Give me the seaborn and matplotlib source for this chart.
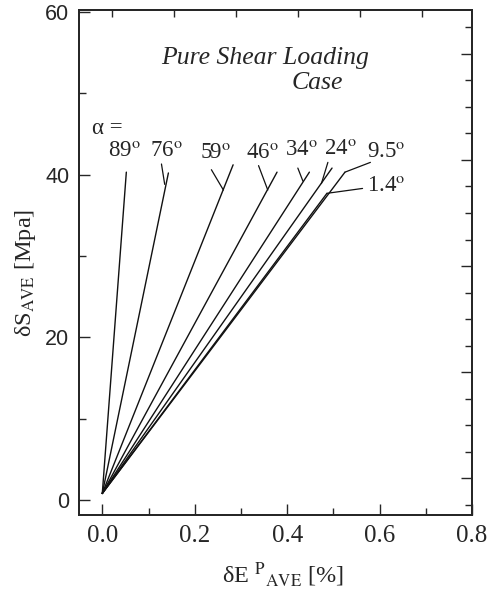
import matplotlib
matplotlib.use('Agg')
import matplotlib.pyplot as plt
import seaborn as sns
import pandas as pd
from matplotlib.ticker import MultipleLocator, NullFormatter

# Angle labels and end points of each loading line
angles = ['89', '76', '59', '46', '34', '24', '9.5', '1.4']
end_x = [0.052, 0.143, 0.283, 0.378, 0.448, 0.497, 0.525, 0.486]
end_y = [40.3, 40.2, 41.2, 40.3, 40.3, 40.8, 40.3, 37.7]
start_x = 0.0
start_y = 0.85

# Label positions (data coords)
label_x = [0.048, 0.138, 0.245, 0.346, 0.43, 0.515, 0.614, 0.614]
label_y = [42.8, 42.8, 42.6, 42.6, 42.9, 43.1, 42.7, 38.5]

# Leader lines: label side -> point on line
lead_from = [None, (0.128, 41.3), (0.236, 40.6), (0.338, 41.1), (0.423, 40.8), (0.488, 41.5), (0.58, 41.5), (0.563, 38.3)]
lead_to = [None, (0.135, 38.8), (0.262, 38.1), (0.358, 38.1), (0.434, 39.2), (0.474, 38.9), (0.525, 40.3), (0.486, 37.7)]

rows = []
for a, xe, ye in zip(angles, end_x, end_y):
    rows.append({'angle': a, 'x': start_x, 'y': start_y})
    rows.append({'angle': a, 'x': xe, 'y': ye})
df = pd.DataFrame(rows)

sns.set_style('ticks')
plt.rcParams['font.family'] = ['Liberation Serif', 'DejaVu Serif']
plt.rcParams['mathtext.fontset'] = 'stix'

fig = plt.figure(figsize=(4.98, 5.92), dpi=100)
ax = fig.add_axes([0.159, 0.130, 0.789, 0.853])

sns.lineplot(data=df, x='x', y='y', hue='angle', palette=['#111111'] * len(angles),
             sort=False, legend=False, linewidth=1.0, ax=ax)

for lf, lt in zip(lead_from, lead_to):
    if lf is None:
        continue
    ax.plot([lf[0], lt[0]], [lf[1], lt[1]], color='#111111', linewidth=0.9)

for a, lx, ly in zip(angles, label_x, label_y):
    ax.text(lx, ly, a + r'$^{\mathrm{o}}$', ha='center', va='center', fontsize=16.5)
ax.text(0.01, 45.6, 'α =', ha='center', va='center', fontsize=16.5)

ax.text(0.352, 54.3, 'Pure Shear Loading', style='italic', fontsize=18.5, ha='center', va='center')
ax.text(0.465, 51.3, 'Case', style='italic', fontsize=18.5, ha='center', va='center')

ax.set_xlim(-0.05, 0.8)
ax.set_ylim(-1.8, 60.2)
ax.xaxis.set_major_locator(MultipleLocator(0.2))
ax.xaxis.set_minor_locator(MultipleLocator(0.1))
ax.yaxis.set_major_locator(MultipleLocator(20))
ax.yaxis.set_minor_locator(MultipleLocator(10))
ax.tick_params(which='both', direction='in', top=False, right=False, width=1)
ax.tick_params(which='major', length=8)
ax.tick_params(which='minor', length=5)
ax.set_xticks([0.0, 0.2, 0.4, 0.6, 0.8])
ax.set_xticklabels(['0.0', '0.2', '0.4', '0.6', '0.8'], fontsize=18)
ax.set_yticks([0, 20, 40, 60])
ax.set_yticklabels(['0', '20', '40', '60'], fontsize=15.5, family='Liberation Sans')
ax.tick_params(axis='x', pad=7)
ax.tick_params(axis='y', pad=7)
for s in ax.spines.values():
    s.set_linewidth(1.2)

# top and right frame ticks of the original plot do not line up with the data scale
top = ax.twiny()
top.set_xlim(-0.537, 5.806)
top.xaxis.set_major_locator(MultipleLocator(1))
top.xaxis.set_major_formatter(NullFormatter())
top.tick_params(direction='in', length=5, width=1)
right = ax.twinx()
right.set_ylim(-3.346, 1.412)
right.yaxis.set_major_locator(MultipleLocator(1))
right.yaxis.set_minor_locator(MultipleLocator(0.25))
right.yaxis.set_major_formatter(NullFormatter())
right.tick_params(which='both', direction='in', width=1)
right.tick_params(which='major', length=8)
right.tick_params(which='minor', length=5)
for a2 in (top, right):
    for s in a2.spines.values():
        s.set_linewidth(1.2)

ax.set_xlabel(r'δE $^{\mathrm{P}}$$_{\mathrm{AVE}}$ [%]', fontsize=17.5)
ax.set_ylabel(r'δS$_{\mathrm{AVE}}$ [Mpa]', fontsize=17.5)
ax.xaxis.set_label_coords(0.519, -0.089)
ax.yaxis.set_label_coords(-0.137, 0.479)
ax.yaxis.label.set_va('center')

fig.savefig('out.png', dpi=100)
